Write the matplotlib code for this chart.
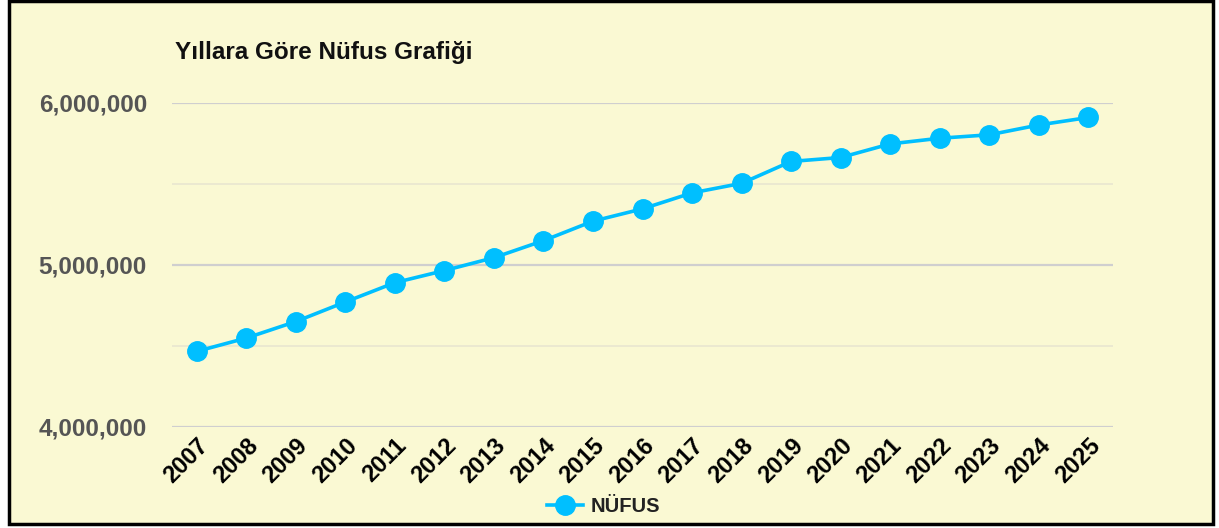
import matplotlib.pyplot as plt
from matplotlib.ticker import FuncFormatter, MultipleLocator
from matplotlib.patches import Rectangle

years = ['2007', '2008', '2009', '2010', '2011', '2012', '2013', '2014', '2015', '2016',
         '2017', '2018', '2019', '2020', '2021', '2022', '2023', '2024', '2025']
nufus = [4466756, 4548939, 4650802, 4771716, 4890893, 4965542, 5045083, 5150072, 5270575,
         5346518, 5445026, 5503985, 5639076, 5663322, 5747325, 5782285, 5803482, 5864049, 5910320]

bg = '#faf9d3'
line_color = '#00bfff'

plt.rcParams['font.family'] = ['Liberation Sans', 'DejaVu Sans']

fig = plt.figure(figsize=(12.19, 5.28), dpi=100)
fig.patch.set_facecolor('white')
# black frame around the chart
fig.patches.append(Rectangle((0.007, 0.008), 0.988, 0.99, transform=fig.transFigure,
                             facecolor=bg, edgecolor='black', linewidth=2.5, zorder=-1))

ax = fig.add_axes([0.1411, 0.1913, 0.772, 0.6137])
ax.set_facecolor('none')

ax.plot(range(len(years)), nufus, color=line_color, linewidth=2.6,
        marker='o', markersize=14, label='NÜFUS', zorder=3, clip_on=False)

ax.set_xlim(-0.5, len(years) - 0.5)
ax.set_ylim(4000000, 6000000)
ax.yaxis.set_major_locator(MultipleLocator(1000000))
ax.yaxis.set_minor_locator(MultipleLocator(500000))
ax.yaxis.set_major_formatter(FuncFormatter(lambda v, p: f'{int(v):,}'))
ax.grid(True, axis='y', which='major', color='#cfcfcf', linewidth=1.6)
ax.grid(True, axis='y', which='minor', color='#e8e6d0', linewidth=1.2)
ax.set_axisbelow(True)

for s in ax.spines.values():
    s.set_visible(False)

ax.set_xticks(range(len(years)))
ax.set_xticklabels(years, rotation=45, ha='right', rotation_mode='anchor',
                   fontsize=17, fontweight='bold', color='black')
ax.tick_params(axis='x', length=0, pad=5)
ax.tick_params(axis='y', which='both', length=0, pad=18)
for lbl in ax.get_yticklabels():
    lbl.set_fontsize(17.5)
    lbl.set_fontweight('bold')
    lbl.set_color('#555555')

fig.text(0.1436, 0.9, 'Yıllara Göre Nüfus Grafiği', fontsize=17.5, fontweight='bold',
         color='#111111', ha='left', va='center')

leg = fig.legend(loc='center', bbox_to_anchor=(0.495, 0.04), frameon=False,
                 handlelength=1.8, handletextpad=0.4,
                 prop={'family': ['Liberation Sans Narrow', 'Liberation Sans'],
                       'weight': 'bold', 'size': 14.5})
for t in leg.get_texts():
    t.set_color('#222222')

fig.savefig('out.png', dpi=100, facecolor='white')
